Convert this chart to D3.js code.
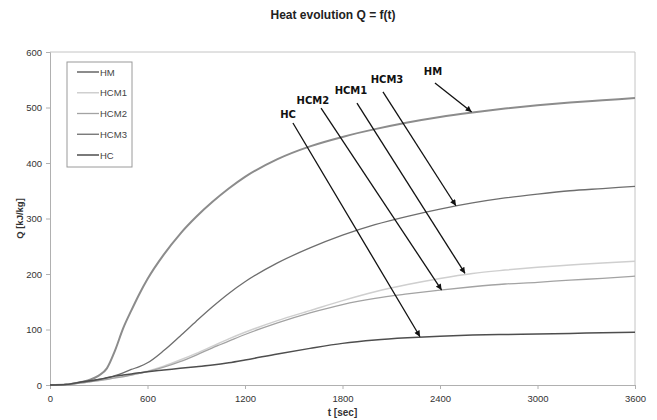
<!doctype html>
<html>
<head>
<meta charset="utf-8"/>
<title>Heat evolution Q = f(t)</title>
<style>
body{margin:0;background:#fff;}
</style>
<script src="https://d3js.org/d3.v7.min.js"></script>
</head>
<body>
<script>
// time in sec
var time = [0,100,200,250,300,350,400,450,500,550,600,700,800,900,1000,1100,1200,1400,1600,1800,2000,2200,2400,2600,2800,3000,3200,3400,3600];
// Q in kJ/kg
var HM   = [0,1,6,10,17,30,62,102,134,164,191,235,272,303,330,354,375,407,430,447,461,473,483,491,498,504,509,513,517];
var HCM1 = [0,1,4,6,8,10,13,15,18,21,25,34,45,57,70,83,95,116,134,152,168,181,192,201,207,212,216,220,223];
var HCM2 = [0,1,4,6,8,10,13,15,18,21,24,32,42,54,67,79,91,112,130,145,156,164,171,177,182,185,189,192,196];
var HCM3 = [0,1,5,7,10,13,17,22,28,33,40,62,88,115,141,165,186,220,247,270,289,304,317,328,337,344,350,354,358];
var HC   = [0,1,6,8,10,13,16,18,20,22,24,27,30,33,36,40,45,56,66,75,81,85,88,90,91,92,93,94,95];

var seriesNames = ["HM","HCM1","HCM2","HCM3","HC"];
var seriesData = [HM,HCM1,HCM2,HCM3,HC];
var seriesColor = ["#8c8c8c","#cfcfcf","#a3a3a3","#6e6e6e","#4e4e4e"];
var seriesWidth = [2,1.5,1.3,1.3,1.5];

var xTicks = [0,600,1200,1800,2400,3000,3600];
var yTicks = [0,100,200,300,400,500,600];

// annotation arrows: label position, line start, arrow tip (data units)
var annLabel = ["HC","HCM2","HCM1","HCM3","HM"];
var annTextT = [1465,1618,1852,2074,2357];
var annTextQ = [481,506,524,544,559];
var annStartT = [1495,1668,1889,2049,2369];
var annStartQ = [472,499,508,528,544];
var annTipT = [2277,2410,2554,2498,2595];
var annTipQ = [87,171,201,323,492];

var W = 657, H = 420;
var m = {left:50, right:22, top:52, bottom:35};
var sans = "'Liberation Sans',Arial,sans-serif";

var svg = d3.select("body").append("svg")
    .attr("width", W)
    .attr("height", H)
    .style("font-family", sans);

var x = d3.scaleLinear().domain([0,3600]).range([m.left, W-m.right]);
var y = d3.scaleLinear().domain([0,600]).range([H-m.bottom, m.top]);

// title
svg.append("text")
    .attr("x", 333).attr("y", 19)
    .attr("text-anchor","middle")
    .attr("font-size","12px").attr("font-weight","bold")
    .attr("fill","#222")
    .text("Heat evolution Q = f(t)");

// plot border (top and right)
svg.append("path")
    .attr("d","M"+x(0)+","+y(600)+"H"+x(3600)+"V"+y(0))
    .attr("fill","none").attr("stroke","#c4c4c4").attr("stroke-width",1);

// axes
var xAxis = svg.append("g")
    .attr("transform","translate(0,"+y(0)+")")
    .call(d3.axisBottom(x).tickValues(xTicks).tickFormat(d3.format("d")).tickSize(4).tickPadding(6));
var yAxis = svg.append("g")
    .attr("transform","translate("+x(0)+",0)")
    .call(d3.axisLeft(y).tickValues(yTicks).tickFormat(d3.format("d")).tickSize(4).tickPadding(4));
[xAxis,yAxis].forEach(function(a){
    a.select(".domain").attr("stroke","#b0b0b0");
    a.selectAll(".tick line").attr("stroke","#b0b0b0");
    a.selectAll(".tick text").attr("font-size","9.5px").attr("fill","#333")
        .attr("font-family",sans);
});

// axis titles
svg.append("text")
    .attr("x", (x(0)+x(3600))/2).attr("y", 416)
    .attr("text-anchor","middle")
    .attr("font-size","10px").attr("font-weight","bold").attr("fill","#333")
    .text("t [sec]");
svg.append("text")
    .attr("transform","translate(23,"+((y(0)+y(600))/2)+") rotate(-90)")
    .attr("text-anchor","middle")
    .attr("font-size","9.5px").attr("font-weight","bold").attr("fill","#333")
    .text("Q [kJ/kg]");

// lines
var line = d3.line()
    .x(function(d,i){ return x(time[i]); })
    .y(function(d){ return y(d); })
    .curve(d3.curveMonotoneX);

for (var s=0; s<seriesData.length; s++)
{
    svg.append("path")
        .datum(seriesData[s])
        .attr("d", line)
        .attr("fill","none")
        .attr("stroke", seriesColor[s])
        .attr("stroke-width", seriesWidth[s]);
}

// arrow marker
svg.append("defs").append("marker")
    .attr("id","arr")
    .attr("viewBox","0 0 10 10")
    .attr("refX",10).attr("refY",5)
    .attr("markerWidth",7).attr("markerHeight",6)
    .attr("markerUnits","userSpaceOnUse")
    .attr("orient","auto")
    .append("path")
    .attr("d","M0,0L10,5L0,10z")
    .attr("fill","#111");

// annotations
for (var i=0; i<annLabel.length; i++)
{
    svg.append("text")
        .attr("x", x(annTextT[i])).attr("y", y(annTextQ[i]))
        .attr("text-anchor","middle")
        .style("font-family","'DejaVu Sans',Verdana,sans-serif")
        .attr("font-size","10px").attr("font-weight","bold")
        .attr("fill","#111")
        .text(annLabel[i]);
    svg.append("line")
        .attr("x1", x(annStartT[i])).attr("y1", y(annStartQ[i]))
        .attr("x2", x(annTipT[i])).attr("y2", y(annTipQ[i]))
        .attr("stroke","#111").attr("stroke-width",1.3)
        .attr("marker-end","url(#arr)");
}

// legend
var lg = svg.append("g").attr("transform","translate(67,62)");
lg.append("rect")
    .attr("x",0).attr("y",0).attr("width",65).attr("height",105)
    .attr("fill","#fff").attr("stroke","#9a9a9a").attr("stroke-width",1);
var ly = d3.scalePoint().domain(seriesNames).range([10,93]);
seriesNames.forEach(function(n,k){
    lg.append("line")
        .attr("x1",10).attr("x2",32)
        .attr("y1",ly(n)).attr("y2",ly(n))
        .attr("stroke",seriesColor[k]).attr("stroke-width",seriesWidth[k]);
    lg.append("text")
        .attr("x",33).attr("y",ly(n)+3.5)
        .attr("font-size","9.5px").attr("fill","#444")
        .text(n);
});
</script>
</body>
</html>
